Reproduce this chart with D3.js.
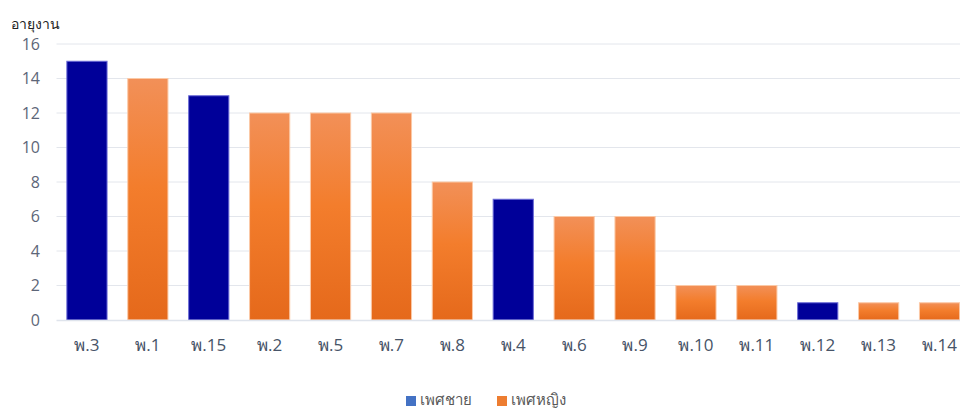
<!DOCTYPE html>
<html>
<head>
<meta charset="utf-8">
<script src="https://cdn.jsdelivr.net/npm/d3@7"></script>
<style>
  html, body { margin: 0; padding: 0; background: #fff; }
  svg { display: block; font-family: "Open Sans", "Noto Sans", sans-serif; }
</style>
</head>
<body>
<svg id="chart" width="960" height="412"></svg>
<script>
const categories = ["พ.3","พ.1","พ.15","พ.2","พ.5","พ.7","พ.8","พ.4","พ.6","พ.9","พ.10","พ.11","พ.12","พ.13","พ.14"];
const values = [15,14,13,12,12,12,8,7,6,6,2,2,1,1,1];
const genders = ["m","f","m","f","f","f","f","m","f","f","f","f","m","f","f"];
const yTicks = [0,2,4,6,8,10,12,14,16];
const seriesNames = ["เพศชาย","เพศหญิง"];
const yTitle = "อายุงาน";

const svg = d3.select("#chart");
const W = 960, H = 412;
const margin = {left: 56.5, right: -10, top: 44, bottom: 92};

const x = d3.scaleBand().domain(categories)
  .range([margin.left, W - margin.right])
  .paddingInner(0.34).paddingOuter(0.17);
const y = d3.scaleLinear().domain([0, 16]).range([H - margin.bottom, margin.top]);

const defs = svg.append("defs");
const g = defs.append("linearGradient").attr("id","gradF")
  .attr("x1",0).attr("y1",0).attr("x2",0).attr("y2",1);
g.append("stop").attr("offset","0%").attr("stop-color","#f29058");
g.append("stop").attr("offset","45%").attr("stop-color","#f37d2c");
g.append("stop").attr("offset","100%").attr("stop-color","#e5691b");

// gridlines
svg.append("g").selectAll("line").data(yTicks.filter(d => d > 0)).join("line")
  .attr("x1", margin.left).attr("x2", W)
  .attr("y1", d => y(d)).attr("y2", d => y(d))
  .attr("stroke", "#e3e6ec").attr("stroke-width", 1);

// y tick labels
svg.append("g").selectAll("text").data(yTicks).join("text")
  .attr("x", 40).attr("y", d => y(d))
  .attr("dy", "0.35em").attr("text-anchor", "end")
  .attr("fill", "#5d6678").attr("font-size", 16)
  .text(d => d);

// y title
svg.append("text").attr("x", 11).attr("y", 29)
  .attr("fill", "#222").attr("font-size", 14)
  .text(yTitle);

// bars
svg.append("g").selectAll("rect").data(categories).join("rect")
  .attr("x", d => x(d))
  .attr("width", x.bandwidth())
  .attr("y", (d,i) => y(values[i]))
  .attr("height", (d,i) => y(0) - y(values[i]))
  .attr("fill", (d,i) => genders[i] === "m" ? "#000099" : "url(#gradF)")
  .attr("stroke", (d,i) => genders[i] === "m" ? "#6b6bd6" : "#fbc9a6")
  .attr("stroke-width", 1);

// x axis line
svg.append("line").attr("x1", margin.left).attr("x2", W)
  .attr("y1", y(0) + 0.5).attr("y2", y(0) + 0.5)
  .attr("stroke", "#dfe4ec").attr("stroke-width", 1.5);

// x labels
svg.append("g").selectAll("text").data(categories).join("text")
  .attr("x", d => x(d) + x.bandwidth()/2).attr("y", 345)
  .attr("dy", "0.35em").attr("text-anchor", "middle")
  .attr("fill", "#475468").attr("font-size", 17)
  .text(d => d);

// legend
const legend = svg.append("g");
const items = [
  {name: seriesNames[0], color: "#4472c4", x: 406},
  {name: seriesNames[1], color: "#ed7d31", x: 497}
];
items.forEach(it => {
  legend.append("rect").attr("x", it.x).attr("y", 396).attr("width", 10).attr("height", 10).attr("fill", it.color);
  legend.append("text").attr("x", it.x + 14).attr("y", 400).attr("dy", "0.35em")
    .attr("fill", "#595959").attr("font-size", 15).text(it.name);
});
</script>
</body>
</html>
